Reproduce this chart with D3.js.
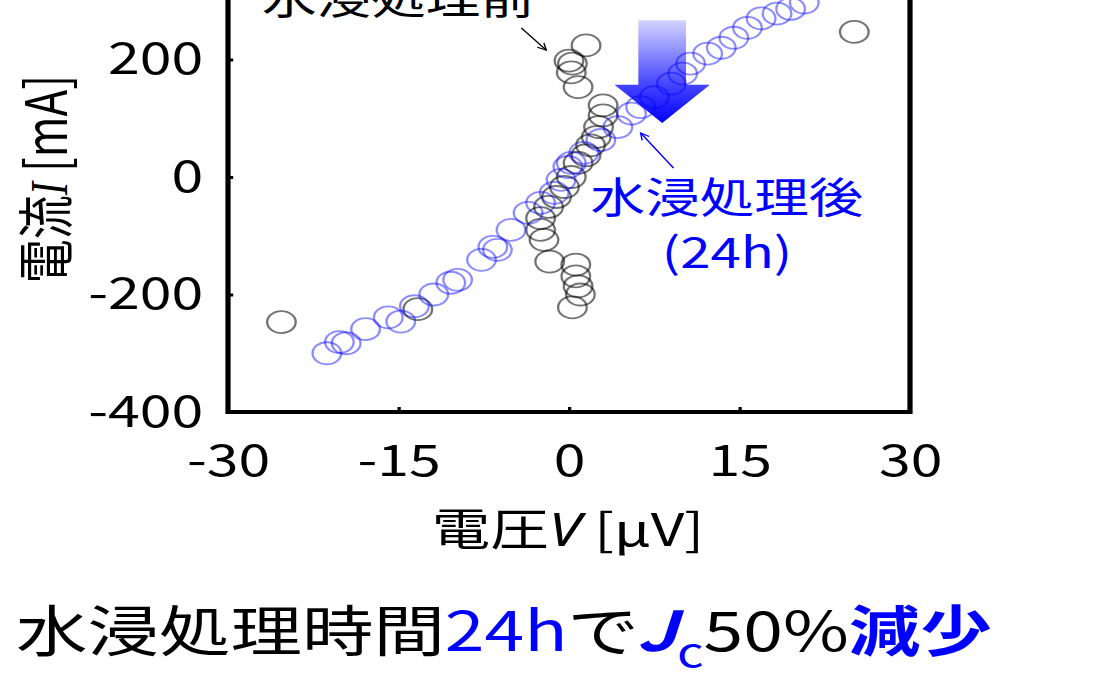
<!DOCTYPE html>
<html>
<head>
<meta charset="utf-8">
<script src="https://cdn.jsdelivr.net/npm/d3@7"></script>
<style>
  html, body { margin: 0; padding: 0; background: #fff; overflow: hidden; }
  svg { display: block; }
</style>
</head>
<body>
<svg id="chart"></svg>
<script>
// data: voltage in uV, current in mA
const beforeV = [1.5, 0, 0.3, 0.2, 0.8, 3, 3, 2.6, 2.4, 1.9, 1.5, 0.8, 0.2, -0.4, -1.1, -1.8, -2.5, -2.5, -2.2, -1.7, 0.6, 0.6, 0.8, 1.0, 0.3, 25.1, -25.3, -13.3];
const beforeI = [224, 198, 193, 178, 153, 122, 105, 85, 68, 54, 37, 24, 0, -17, -34, -51, -70, -90, -107, -144, -149, -169, -186, -200, -222, 247, -247, -225];

const afterV = [-21.3, -20.2, -19.6, -17.9, -15.9, -14.8, -13.6, -11.9, -10.4, -9.8, -7.7, -6.7, -6.3, -5.1, -3.6, -2.5, -1.3, -0.7, -0.1, 0.2, 1.3, 2.8, 4.3, 5.5, 6.3, 7.5, 9.0, 10.0, 10.7, 12.2, 13.4, 14.5, 15.7, 16.9, 18.3, 19.5, 20.7];
const afterI = [-300, -281, -283, -259, -239, -246, -220, -200, -180, -175, -141, -119, -124, -90, -61, -44, -27, -5, 17, 24, 41, 63, 85, 108, 119, 136, 159, 176, 193, 210, 220, 237, 254, 270, 278, 286, 297];

const xTicks = [-30, -15, 0, 15, 30];
const yTicks = [-400, -200, 0, 200];

const xLabel = "電圧";
const yLabel = "電流";
const labelBefore = "水浸処理前";
const labelAfter = "水浸処理後";
const labelAfterHours = "(24h)";

// the picture is stretched sideways, so draw in a narrower box and let the viewBox stretch it
const k = 1.3;
const width = 1102 / k, height = 685;
const font = "'Noto Sans CJK JP', 'Noto Sans', sans-serif";
const blue = "#0000ff";

const svg = d3.select("#chart")
    .attr("width", 1102)
    .attr("height", 685)
    .attr("viewBox", `0 0 ${width} ${height}`)
    .attr("preserveAspectRatio", "none")
    .style("font-family", font);

const x = d3.scaleLinear().domain([-30, 30]).range([228 / k, 910 / k]);
const y = d3.scaleLinear().domain([-400, 400]).range([412, 412 - 4 * 117.5]);

const defs = svg.append("defs");
const grad = defs.append("linearGradient")
    .attr("id", "arrowGrad")
    .attr("x1", 0).attr("x2", 0).attr("y1", 0).attr("y2", 1);
grad.append("stop").attr("offset", "0%").attr("stop-color", "#d4d4ff");
grad.append("stop").attr("offset", "60%").attr("stop-color", "#4a4aff");
grad.append("stop").attr("offset", "100%").attr("stop-color", "#0000ff");

function marker(id, color) {
    defs.append("marker")
        .attr("id", id)
        .attr("viewBox", "0 0 10 10")
        .attr("refX", 9).attr("refY", 5)
        .attr("markerWidth", 7).attr("markerHeight", 7)
        .attr("orient", "auto")
        .append("path")
        .attr("d", "M1,1 L9,5 L1,9")
        .attr("fill", "none")
        .attr("stroke", color)
        .attr("stroke-width", 1.3);
}
marker("headBlack", "#000");
marker("headBlue", blue);

// big gradient arrow (data units)
const arrowV = 8.2, shaftHalf = 2.1, headHalf = 4.2;
const arrowTop = 267, headBase = 157, tip = 92;
const arrowPts = [
    [arrowV - shaftHalf, arrowTop], [arrowV + shaftHalf, arrowTop],
    [arrowV + shaftHalf, headBase], [arrowV + headHalf, headBase],
    [arrowV, tip],
    [arrowV - headHalf, headBase], [arrowV - shaftHalf, headBase]
];
svg.append("path")
    .attr("d", d3.line().x(d => x(d[0])).y(d => y(d[1]))(arrowPts) + "Z")
    .attr("fill", "url(#arrowGrad)");

// points
const before = beforeV.map((v, i) => ({ v, i: beforeI[i] }));
const after = afterV.map((v, i) => ({ v, i: afterI[i] }));

svg.append("g")
    .selectAll("circle")
    .data(before)
    .join("circle")
    .attr("cx", d => x(d.v))
    .attr("cy", d => y(d.i))
    .attr("r", 11)
    .attr("fill", "none")
    .attr("stroke", "#000")
    .attr("stroke-opacity", 0.55)
    .attr("stroke-width", 1.8);

svg.append("g")
    .selectAll("circle")
    .data(after)
    .join("circle")
    .attr("cx", d => x(d.v))
    .attr("cy", d => y(d.i))
    .attr("r", 11)
    .attr("fill", "none")
    .attr("stroke", blue)
    .attr("stroke-opacity", 0.45)
    .attr("stroke-width", 1.8);

// frame
svg.append("path")
    .attr("d", `M${x(-30)},${y(400)} V${y(-400)} H${x(30)} V${y(400)}`)
    .attr("fill", "none")
    .attr("stroke", "#000")
    .attr("stroke-width", 4);

// axes
const gx = svg.append("g")
    .attr("transform", `translate(0,${y(-400)})`)
    .call(d3.axisBottom(x).tickValues(xTicks).tickFormat(d => String(d))
        .tickSizeInner(-5).tickSizeOuter(0).tickPadding(33));
gx.select(".domain").remove();
gx.selectAll(".tick line").attr("stroke-width", 2.5).attr("display", d => Math.abs(d) === 30 ? "none" : null);
gx.attr("font-family", font).attr("font-size", 44);
gx.selectAll(".tick text").attr("fill", "#000");

const gy = svg.append("g")
    .attr("transform", `translate(${x(-30)},0)`)
    .call(d3.axisLeft(y).tickValues(yTicks).tickFormat(d => String(d))
        .tickSizeInner(-4).tickSizeOuter(0).tickPadding(19));
gy.select(".domain").remove();
gy.selectAll(".tick line").attr("stroke-width", 3).attr("display", d => Math.abs(d) === 400 ? "none" : null);
gy.attr("font-family", font).attr("font-size", 44);
gy.selectAll(".tick text").attr("fill", "#000");

// axis titles
const xt = svg.append("text")
    .attr("x", 568 / k)
    .attr("y", 546)
    .attr("text-anchor", "middle")
    .attr("font-size", 45)
    .attr("fill", "#000");
xt.append("tspan").text(xLabel);
xt.append("tspan").attr("font-style", "italic").attr("font-family", "'Noto Sans', sans-serif").text("V");
xt.append("tspan").text(" [μV]");

const yt = svg.append("text")
    .attr("transform", `translate(${44 / k},179) rotate(-90)`)
    .attr("text-anchor", "middle")
    .attr("dy", "0.4em")
    .attr("font-size", 44)
    .attr("fill", "#000");
yt.append("tspan").text(yLabel);
yt.append("tspan").attr("font-style", "italic").attr("font-family", "'Liberation Serif', serif").attr("font-size", 40).text("I");
yt.append("tspan").text(" [mA]");

// annotations
svg.append("text")
    .attr("x", 262 / k).attr("y", 14)
    .attr("font-size", 42)
    .attr("fill", "#000")
    .text(labelBefore);

svg.append("line")
    .attr("x1", x(-4.2)).attr("y1", y(254))
    .attr("x2", x(-2.0)).attr("y2", y(216))
    .attr("stroke", "#000").attr("stroke-width", 1.2)
    .attr("marker-end", "url(#headBlack)");

svg.append("line")
    .attr("x1", x(9.2)).attr("y1", y(15))
    .attr("x2", x(6.3)).attr("y2", y(75))
    .attr("stroke", blue).attr("stroke-width", 1.2)
    .attr("marker-end", "url(#headBlue)");

svg.append("text")
    .attr("x", 727 / k).attr("y", 213)
    .attr("text-anchor", "middle")
    .attr("font-size", 42)
    .attr("fill", blue)
    .text(labelAfter);

svg.append("text")
    .attr("x", 727 / k).attr("y", 268)
    .attr("text-anchor", "middle")
    .attr("font-size", 42)
    .attr("fill", blue)
    .text(labelAfterHours);

// caption under the chart
const cap = svg.append("text")
    .attr("x", 16 / k).attr("y", 651)
    .attr("font-size", 55)
    .attr("fill", "#000");
cap.append("tspan").text("水浸処理時間");
cap.append("tspan").attr("fill", blue).text("24h");
cap.append("tspan").text("で");
cap.append("tspan").attr("fill", blue).attr("font-weight", "bold").attr("font-style", "italic").attr("dx", -2).text("J");
cap.append("tspan").attr("fill", blue).attr("font-size", 40).attr("dy", 16).text("c");
cap.append("tspan").attr("dy", -16).text("50%");
cap.append("tspan").attr("fill", blue).attr("font-weight", "bold").text("減少");
</script>
</body>
</html>
